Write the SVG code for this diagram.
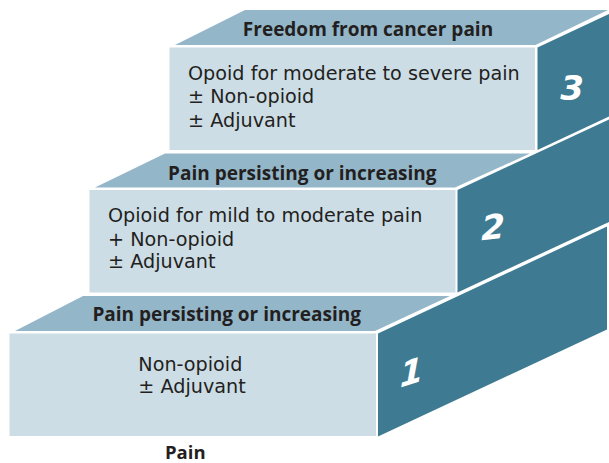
<svg xmlns="http://www.w3.org/2000/svg" width="609" height="463" viewBox="0 0 609 463">
<style>
.top{fill:#93b6c9}
.front{fill:#cddde6}
.side{fill:#3e7b93}
.hd{font-family:"Open Sans","Noto Sans",sans-serif;font-weight:bold;font-size:19px;fill:#231f20;text-anchor:middle}
.bd{font-family:"DejaVu Sans",sans-serif;font-size:19.2px;fill:#231f20}
.num{font-family:"DejaVu Sans",sans-serif;font-weight:bold;font-style:italic;font-size:34px;fill:#ffffff;text-anchor:middle}
</style>
<rect width="609" height="463" fill="#ffffff"/>
<g id="step3">
<polygon class="top" points="175,45 245,10 608,10 535.5,45"/>
<rect class="front" x="169.5" y="47.5" width="365.5" height="102.5"/>
<polygon class="side" points="537.5,47.5 609,14 609,116.5 537.5,150"/>
<text class="hd" x="368" y="35.5">Freedom from cancer pain</text>
<text class="bd" x="188" y="80">Opoid for moderate to severe pain</text>
<text class="bd" x="188" y="103.3">± Non-opioid</text>
<text class="bd" x="188" y="126.6">± Adjuvant</text>
<text class="num" transform="translate(572,100)">3</text>
</g>
<g id="step2">
<polygon class="top" points="95,187.5 165,153.5 530,153.5 455,187.5"/>
<rect class="front" x="89.5" y="190" width="366" height="102.5"/>
<polygon class="side" points="457.5,190 609,119.5 609,222 457.5,292.5"/>
<text class="hd" x="302.3" y="180">Pain persisting or increasing</text>
<text class="bd" x="108" y="221.7">Opioid for mild to moderate pain</text>
<text class="bd" x="108" y="245.5">+ Non-opioid</text>
<text class="bd" x="108" y="268.4">± Adjuvant</text>
<text class="num" transform="translate(493,239) skewY(-6)">2</text>
</g>
<g id="step1">
<polygon class="top" points="15,331 83,296 450,296 375,331"/>
<rect class="front" x="9.5" y="333.5" width="366.5" height="102.5"/>
<polygon class="side" points="378,333.5 607,226.5 607,329.5 378,436.5"/>
<text class="hd" x="226.7" y="320.7">Pain persisting or increasing</text>
<text class="bd" x="138.3" y="370.7">Non-opioid</text>
<text class="bd" x="138.3" y="393.3">± Adjuvant</text>
<text class="num" transform="translate(411.5,384) skewY(-18)">1</text>
</g>
<g id="axis-label">
<text class="hd" x="185.3" y="459" style="font-size:18.5px">Pain</text>
</g>
</svg>
